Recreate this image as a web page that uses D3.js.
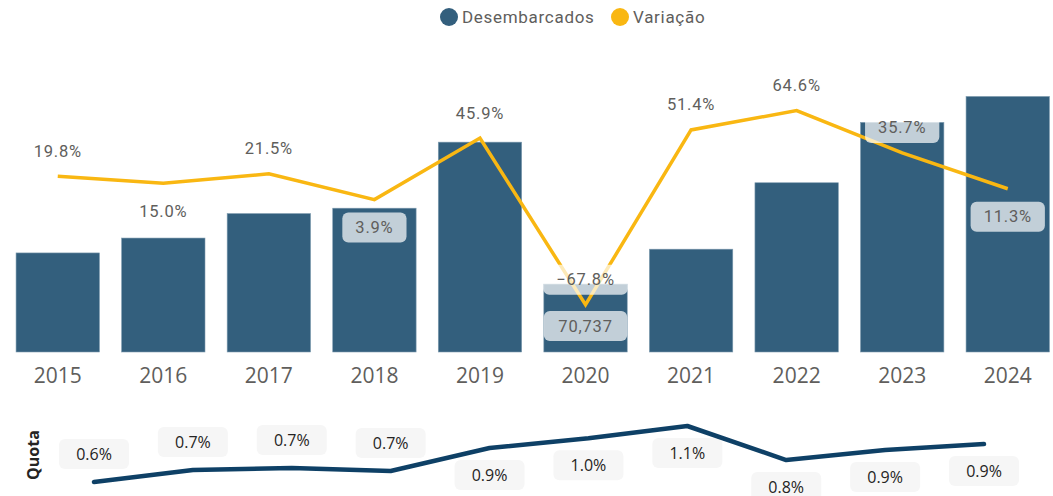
<!DOCTYPE html>
<html>
<head>
<meta charset="utf-8">
<script src="https://cdn.jsdelivr.net/npm/d3@7"></script>
<style>
  body { margin: 0; background: #fff; }
  svg { display: block; }
</style>
</head>
<body>
<svg id="chart" width="1053" height="496"></svg>
<script>
// data
const years = ["2015", "2016", "2017", "2018", "2019", "2020", "2021", "2022", "2023", "2024"];
const desembarcados = [103200, 118700, 144200, 149800, 218600, 70737, 107100, 176300, 239200, 266200];
const variacao = [19.8, 15.0, 21.5, 3.9, 45.9, -67.8, 51.4, 64.6, 35.7, 11.3];
const variacaoBelow = ["2016", "2018", "2024"];
const barLabelYears = ["2020"];
const quota = [0.60, 0.707, 0.725, 0.698, 0.904, 0.99, 1.10, 0.796, 0.886, 0.939];
const quotaBelow = ["2019", "2020", "2021", "2022", "2023", "2024"];

const barColor = "#335f7d";
const lineColor = "#f9b712";
const quotaColor = "#0e4066";
const labelGray = "#605e5c";

const svg = d3.select("#chart");

// legend
const legend = svg.append("g").attr("class", "legend");
const legendItems = [
    { name: "Desembarcados", color: barColor, x: 449 },
    { name: "Variação", color: lineColor, x: 620 }
];
legend.selectAll("circle")
    .data(legendItems)
    .enter()
    .append("circle")
    .attr("cx", d => d.x)
    .attr("cy", 17)
    .attr("r", 9)
    .attr("fill", d => d.color);
legend.selectAll("text")
    .data(legendItems)
    .enter()
    .append("text")
    .text(d => d.name)
    .attr("x", d => d.x + 13)
    .attr("y", 17)
    .attr("dominant-baseline", "central")
    .attr("font-family", "Roboto, sans-serif")
    .attr("font-size", 17)
    .attr("letter-spacing", 0.7)
    .attr("fill", labelGray);

// main chart scales
const x = d3.scaleBand()
    .domain(years)
    .range([5.5, 1060])
    .paddingInner(0.21)
    .paddingOuter(0.1);

const y = d3.scaleLinear().domain([0, 275000]).range([352, 88]);
const y2 = d3.scaleLinear().domain([-100, 80]).range([352, 88]);

const rows = years.map((yr, i) => ({
    year: yr,
    value: desembarcados[i],
    change: variacao[i],
    quota: quota[i]
}));

// bars
svg.append("g")
    .selectAll("rect")
    .data(rows)
    .enter()
    .append("rect")
    .attr("x", d => x(d.year))
    .attr("y", d => y(d.value))
    .attr("width", x.bandwidth())
    .attr("height", d => y(0) - y(d.value))
    .attr("fill", barColor)
    .attr("stroke", "#7f9cb0")
    .attr("stroke-width", 0.6);

// x axis
const xAxis = svg.append("g")
    .attr("transform", "translate(0,364)")
    .call(d3.axisBottom(x).tickSize(0).tickPadding(4));
xAxis.select(".domain").remove();
xAxis.selectAll("text")
    .attr("font-family", "'Open Sans', sans-serif")
    .attr("font-size", 21)
    .attr("fill", labelGray);

// variation line
const line = d3.line()
    .x(d => x(d.year) + x.bandwidth() / 2)
    .y(d => y2(d.change));

svg.append("path")
    .datum(rows)
    .attr("d", line)
    .attr("fill", "none")
    .attr("stroke", lineColor)
    .attr("stroke-width", 3.5)
    .attr("stroke-linejoin", "miter");

// variation labels with translucent boxes
const varLabels = svg.append("g")
    .selectAll("g")
    .data(rows)
    .enter()
    .append("g")
    .attr("transform", d => {
        let cx = x(d.year) + x.bandwidth() / 2;
        let cy = y2(d.change) + (variacaoBelow.includes(d.year) ? 28 : -25);
        return `translate(${cx},${cy})`;
    });

varLabels.append("rect").attr("class", "bg");
varLabels.append("text")
    .text(d => d3.format(".1f")(d.change) + "%")
    .attr("text-anchor", "middle")
    .attr("dominant-baseline", "central")
    .attr("font-family", "Roboto, sans-serif")
    .attr("font-size", 16.5)
    .attr("letter-spacing", 0.8)
    .attr("fill", labelGray);

varLabels.each(function () {
    let g = d3.select(this);
    let w = g.select("text").node().getComputedTextLength() + 26;
    g.select("rect")
        .attr("x", -w / 2)
        .attr("y", -15)
        .attr("width", w)
        .attr("height", 30)
        .attr("rx", 6)
        .attr("fill", "#ffffff")
        .attr("opacity", 0.7);
});

// bar value label
const barLabels = svg.append("g")
    .selectAll("g")
    .data(rows.filter(d => barLabelYears.includes(d.year)))
    .enter()
    .append("g")
    .attr("transform", d => `translate(${x(d.year) + x.bandwidth() / 2},${y(0) - 26})`);

barLabels.append("rect")
    .attr("x", -x.bandwidth() / 2)
    .attr("y", -15)
    .attr("width", x.bandwidth())
    .attr("height", 30)
    .attr("rx", 6)
    .attr("fill", "#ffffff")
    .attr("opacity", 0.7);

barLabels.append("text")
    .text(d => d3.format(",")(d.value))
    .attr("text-anchor", "middle")
    .attr("dominant-baseline", "central")
    .attr("font-family", "Roboto, sans-serif")
    .attr("font-size", 16.5)
    .attr("letter-spacing", 0.8)
    .attr("fill", labelGray);

// quota chart
const xq = d3.scalePoint().domain(years).range([94, 984]);
const yq = d3.scaleLinear().domain([0.5, 1.2]).range([493.2, 414.8]);

svg.append("text")
    .text("Quota")
    .attr("transform", "translate(33,455) rotate(-90)")
    .attr("text-anchor", "middle")
    .attr("dominant-baseline", "central")
    .attr("font-family", "'Open Sans', sans-serif")
    .attr("font-weight", "bold")
    .attr("font-size", 16)
    .attr("fill", "#252423");

const quotaLabels = svg.append("g")
    .selectAll("g")
    .data(rows)
    .enter()
    .append("g")
    .attr("transform", d => {
        let cy = yq(d.quota) + (quotaBelow.includes(d.year) ? 27 : -28);
        return `translate(${xq(d.year)},${cy})`;
    });

quotaLabels.append("rect")
    .attr("x", -35)
    .attr("y", -15)
    .attr("width", 70)
    .attr("height", 30)
    .attr("rx", 6)
    .attr("fill", "#f6f6f6");

quotaLabels.append("text")
    .text(d => d3.format(".1f")(d.quota) + "%")
    .attr("text-anchor", "middle")
    .attr("dominant-baseline", "central")
    .attr("font-family", "'Open Sans', sans-serif")
    .attr("font-size", 16)
    .attr("fill", "#252423");

svg.append("path")
    .datum(rows)
    .attr("d", d3.line().x(d => xq(d.year)).y(d => yq(d.quota)))
    .attr("fill", "none")
    .attr("stroke", quotaColor)
    .attr("stroke-width", 4.5)
    .attr("stroke-linecap", "round")
    .attr("stroke-linejoin", "round");
</script>
</body>
</html>
